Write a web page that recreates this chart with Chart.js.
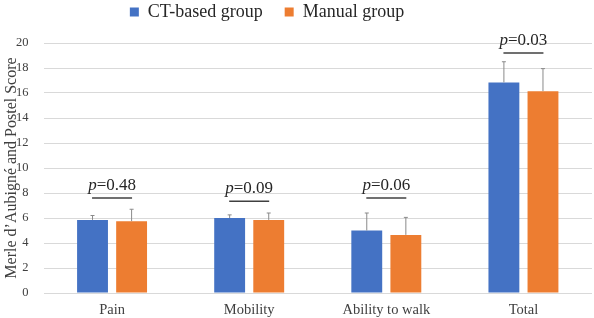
<!DOCTYPE html>
<html>
<head>
<meta charset="utf-8">
<script src="https://cdn.jsdelivr.net/npm/chart.js@4"></script>
<style>
  html, body { margin: 0; padding: 0; background: #fff; }
  #wrap { width: 594px; height: 318px; }
</style>
</head>
<body>
<div id="wrap"><canvas id="scoreChart" width="594" height="318"></canvas></div>
<script>
// Data
const categories = ['Pain', 'Mobility', 'Ability to walk', 'Total'];
const ctMeans = [5.85, 6.0, 5.0, 16.85];
const manualMeans = [5.75, 5.85, 4.65, 16.15];
const ctErr = [0.35, 0.25, 1.4, 1.65];
const manualErr = [0.95, 0.55, 1.4, 1.8];
const pValues = ['0.48', '0.09', '0.06', '0.03'];
const pLineLevel = [7.6, 7.35, 7.6, 19.2];
const yTicks = [0, 2, 4, 6, 8, 10, 12, 14, 16, 18, 20];

const serif = "'Liberation Serif', 'Times New Roman', serif";

// Upward error bars
const errorBars = {
    id: 'errorBars',
    afterDatasetsDraw(chart) {
        const c = chart.ctx;
        const y = chart.scales.y;
        c.save();
        c.strokeStyle = '#8a8a8a';
        c.lineWidth = 1;
        chart.data.datasets.forEach((ds, di) => {
            const meta = chart.getDatasetMeta(di);
            meta.data.forEach((bar, i) => {
                const top = y.getPixelForValue(ds.data[i] + ds.errUp[i]);
                c.beginPath();
                c.moveTo(bar.x, bar.y);
                c.lineTo(bar.x, top);
                c.moveTo(bar.x - 2, top);
                c.lineTo(bar.x + 2, top);
                c.stroke();
            });
        });
        c.restore();
    }
};

// p-value brackets
const pNotes = {
    id: 'pNotes',
    afterDraw(chart) {
        const c = chart.ctx;
        const x = chart.scales.x;
        const y = chart.scales.y;
        c.save();
        pValues.forEach((p, i) => {
            const cx = x.getPixelForValue(i);
            const ly = y.getPixelForValue(pLineLevel[i]);
            c.strokeStyle = '#404040';
            c.lineWidth = 1.5;
            c.beginPath();
            c.moveTo(cx - 20, ly);
            c.lineTo(cx + 20, ly);
            c.stroke();

            c.fillStyle = '#262626';
            c.textBaseline = 'alphabetic';
            c.font = 'italic 17px ' + serif;
            const pw = c.measureText('p').width;
            c.font = '17px ' + serif;
            const rest = '=' + p;
            const rw = c.measureText(rest).width;
            const start = cx - (pw + rw) / 2;
            c.font = 'italic 17px ' + serif;
            c.textAlign = 'left';
            c.fillText('p', start, ly - 8);
            c.font = '17px ' + serif;
            c.fillText(rest, start + pw, ly - 8);
        });
        c.restore();
    }
};

// Legend placement: fixed band height, shifted up and to the left
const legendPlace = {
    id: 'legendPlace',
    beforeInit(chart) {
        const lg = chart.legend;
        const origFit = lg.fit;
        lg.fit = function () {
            origFit.call(this);
            this.height = 43;
        };
    },
    afterLayout(chart) {
        const lg = chart.legend;
        lg.top -= 19;
        lg.bottom -= 19;
        lg.left -= 30;
        lg.right -= 30;
    }
};

new Chart(document.getElementById('scoreChart'), {
    type: 'bar',
    data: {
        labels: categories,
        datasets: [
            {
                label: 'CT-based group',
                data: ctMeans,
                errUp: ctErr,
                backgroundColor: '#4472c4',
                categoryPercentage: 0.57,
                barPercentage: 0.79
            },
            {
                label: 'Manual group',
                data: manualMeans,
                errUp: manualErr,
                backgroundColor: '#ed7d31',
                categoryPercentage: 0.57,
                barPercentage: 0.79
            }
        ]
    },
    options: {
        responsive: false,
        animation: false,
        devicePixelRatio: 1,
        layout: { padding: { left: 2, right: 2, top: 0, bottom: 0 } },
        plugins: {
            legend: {
                display: true,
                position: 'top',
                labels: {
                    color: '#262626',
                    boxWidth: 9,
                    boxHeight: 9,
                    padding: 22,
                    font: { family: serif, size: 18 }
                }
            },
            tooltip: { enabled: false }
        },
        scales: {
            x: {
                grid: { display: false },
                border: { display: false },
                afterFit: axis => { axis.height = 25; },
                ticks: {
                    color: '#404040',
                    padding: 0,
                    font: { family: serif, size: 14.5 }
                }
            },
            y: {
                min: 0,
                max: 20,
                afterBuildTicks: axis => {
                    axis.ticks = yTicks.map(v => ({ value: v }));
                },
                afterFit: axis => { axis.width = 41.5; },
                grid: { color: '#d9d9d9', drawTicks: false },
                border: { display: false },
                ticks: {
                    color: '#404040',
                    padding: 15,
                    font: { family: serif, size: 12.5 }
                },
                title: {
                    display: true,
                    text: "Merle d\u2019Aubign\u00e9 and Postel Score",
                    color: '#404040',
                    padding: 0,
                    font: { family: serif, size: 16 }
                }
            }
        }
    },
    plugins: [legendPlace, errorBars, pNotes]
});
</script>
</body>
</html>
